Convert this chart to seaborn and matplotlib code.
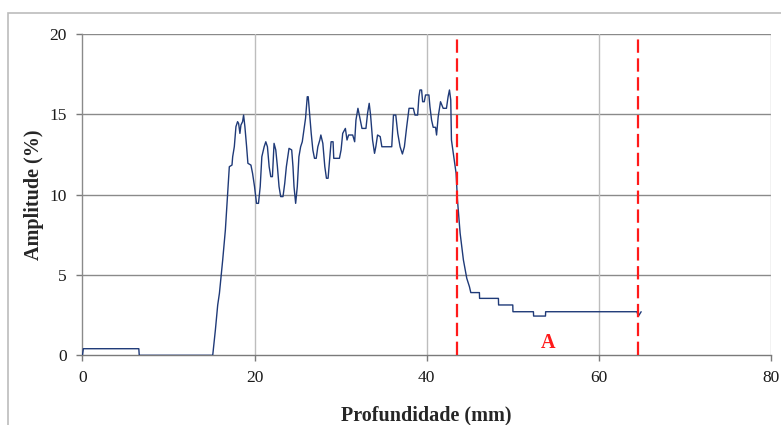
import matplotlib
matplotlib.use("Agg")
import matplotlib.pyplot as plt
from matplotlib.patches import Rectangle
import seaborn as sns
import pandas as pd

# Depth (mm) and echo amplitude (%) along the scan
depth_mm = [
    0.0, 0.1, 6.55, 6.6, 15.14, 15.45, 15.72, 15.92, 16.30, 16.61, 16.88, 17.07,
    17.38, 17.46, 17.65, 17.84, 18.03, 18.15, 18.30, 18.42, 18.61, 18.73, 18.88,
    19.08, 19.23, 19.58, 19.77, 20.00, 20.23, 20.46, 20.66, 20.85, 21.12, 21.31,
    21.50, 21.70, 21.89, 22.08, 22.27, 22.47, 22.66, 22.85, 23.04, 23.31, 23.51,
    23.70, 24.01, 24.32, 24.47, 24.59, 24.78, 24.97, 25.16, 25.36, 25.55, 25.74,
    25.93, 26.13, 26.24, 26.40, 26.59, 26.78, 26.97, 27.17, 27.36, 27.59, 27.71,
    27.94, 28.17, 28.36, 28.55, 28.75, 28.90, 29.13, 29.21, 29.87, 30.06, 30.25,
    30.56, 30.75, 30.94, 31.41, 31.64, 31.79, 32.02, 32.22, 32.49, 32.95, 33.14,
    33.33, 33.49, 33.72, 33.95, 34.10, 34.30, 34.61, 34.80, 35.95, 36.15, 36.42,
    36.65, 36.92, 37.19, 37.42, 37.69, 37.96, 38.46, 38.65, 38.96, 39.11, 39.23,
    39.42, 39.54, 39.73, 39.88, 40.27, 40.39, 40.58, 40.77, 41.04, 41.16, 41.35,
    41.62, 41.93, 42.31, 42.50, 42.66, 42.81, 42.89, 43.43, 43.59, 43.90, 44.28,
    44.67, 44.98, 45.14, 46.14, 46.16, 48.35, 48.37, 50.02, 50.04, 52.42, 52.44,
    53.82, 53.84, 64.44, 64.63, 64.94,
]
amplitude_pct = [
    0.0, 0.41, 0.41, 0.0, 0.0, 1.58, 3.13, 3.86, 5.93, 7.79, 10.07, 11.73,
    11.83, 12.35, 12.97, 14.22, 14.53, 14.42, 13.80, 14.32, 14.53, 14.94, 14.22,
    12.97, 11.94, 11.83, 11.32, 10.49, 9.45, 9.45, 10.49, 12.35, 12.97, 13.28,
    12.97, 11.73, 11.11, 11.11, 13.18, 12.77, 11.73, 10.49, 9.87, 9.87, 10.69,
    11.73, 12.87, 12.77, 11.73, 10.49, 9.45, 10.49, 12.35, 12.97, 13.28, 14.01,
    14.74, 16.08, 16.08, 15.05, 13.80, 12.77, 12.25, 12.25, 12.97, 13.39, 13.70,
    13.18, 11.73, 11.01, 11.01, 12.35, 13.28, 13.28, 12.25, 12.25, 12.77, 13.80,
    14.11, 13.39, 13.70, 13.70, 13.28, 14.63, 15.36, 14.84, 14.11, 14.11, 15.05,
    15.67, 14.94, 13.39, 12.56, 12.97, 13.70, 13.60, 12.97, 12.97, 14.94, 14.94,
    13.80, 12.97, 12.52, 12.97, 14.22, 15.36, 15.36, 14.94, 14.94, 16.08, 16.50,
    16.50, 15.77, 15.77, 16.19, 16.19, 15.46, 14.63, 14.18, 14.18, 13.70, 14.84,
    15.77, 15.36, 15.36, 16.08, 16.50, 15.88, 13.39, 11.32, 9.66, 7.59, 5.93,
    4.79, 4.27, 3.90, 3.90, 3.54, 3.54, 3.13, 3.13, 2.71, 2.71, 2.44,
    2.44, 2.71, 2.71, 2.44, 2.71,
]

# Limits of zone A and its label
zone_bounds_mm = [43.55, 64.55]
zone_label = "A"
zone_label_pos = (54.1, 0.75)

x_ticks = [0, 20, 40, 60, 80]
y_ticks = [0, 5, 10, 15, 20]

sns.set_theme(style="white")
plt.rcParams["font.family"] = ["Liberation Serif", "DejaVu Serif"]

fig = plt.figure(figsize=(7.81, 4.25), dpi=100)
ax = fig.add_axes([0.1056, 0.164, 0.8812, 0.7567])

# outer chart frame
fig.add_artist(Rectangle((8 / 781, -0.1), 1.2, 1 - 13 / 425 + 0.1,
                         transform=fig.transFigure, fill=False,
                         edgecolor="#bcbcbc", linewidth=1.2))

df = pd.DataFrame({"Profundidade": depth_mm, "Amplitude": amplitude_pct})
sns.lineplot(data=df, x="Profundidade", y="Amplitude", sort=False,
             estimator=None, color="#1f3a78", linewidth=1.0, ax=ax, zorder=3)

for xb in zone_bounds_mm:
    ax.axvline(xb, color="#ff1a1a", linewidth=1.6, dashes=(6, 2.5), zorder=4)

ax.text(zone_label_pos[0], zone_label_pos[1], zone_label, color="#ff1a1a",
        fontsize=14.5, fontweight="bold", ha="center", va="center")

ax.set_xlim(0, 80)
ax.set_ylim(0, 20)
ax.set_xticks(x_ticks)
ax.set_yticks(y_ticks)
ax.set_xticklabels([str(t) for t in x_ticks])
ax.set_yticklabels([str(t) for t in y_ticks])

for y in y_ticks[1:]:
    ax.axhline(y, color="#8a8a8a", linewidth=1.0, zorder=1)
for x in x_ticks[1:]:
    ax.axvline(x, color="#bdbdbd", linewidth=1.0, zorder=1)

for side in ["top", "right"]:
    ax.spines[side].set_visible(False)
ax.spines["left"].set_color("#8a8a8a")
ax.spines["bottom"].set_color("#7a7a7a")
ax.spines["left"].set_linewidth(1.0)
ax.spines["bottom"].set_linewidth(1.0)

ax.tick_params(axis="both", which="major", direction="out", length=4.5,
               width=1.0, color="#7a7a7a", labelsize=12.5, labelcolor="#1a1a1a",
               bottom=True, left=True)
ax.tick_params(axis="y", pad=7)
ax.tick_params(axis="x", pad=6)

ax.set_xlabel("Profundidade (mm)", fontsize=14.5, fontweight="bold", labelpad=14)
ax.set_ylabel("Amplitude (%)", fontsize=14.5, fontweight="bold", labelpad=4)

fig.savefig("out.png", dpi=100)
